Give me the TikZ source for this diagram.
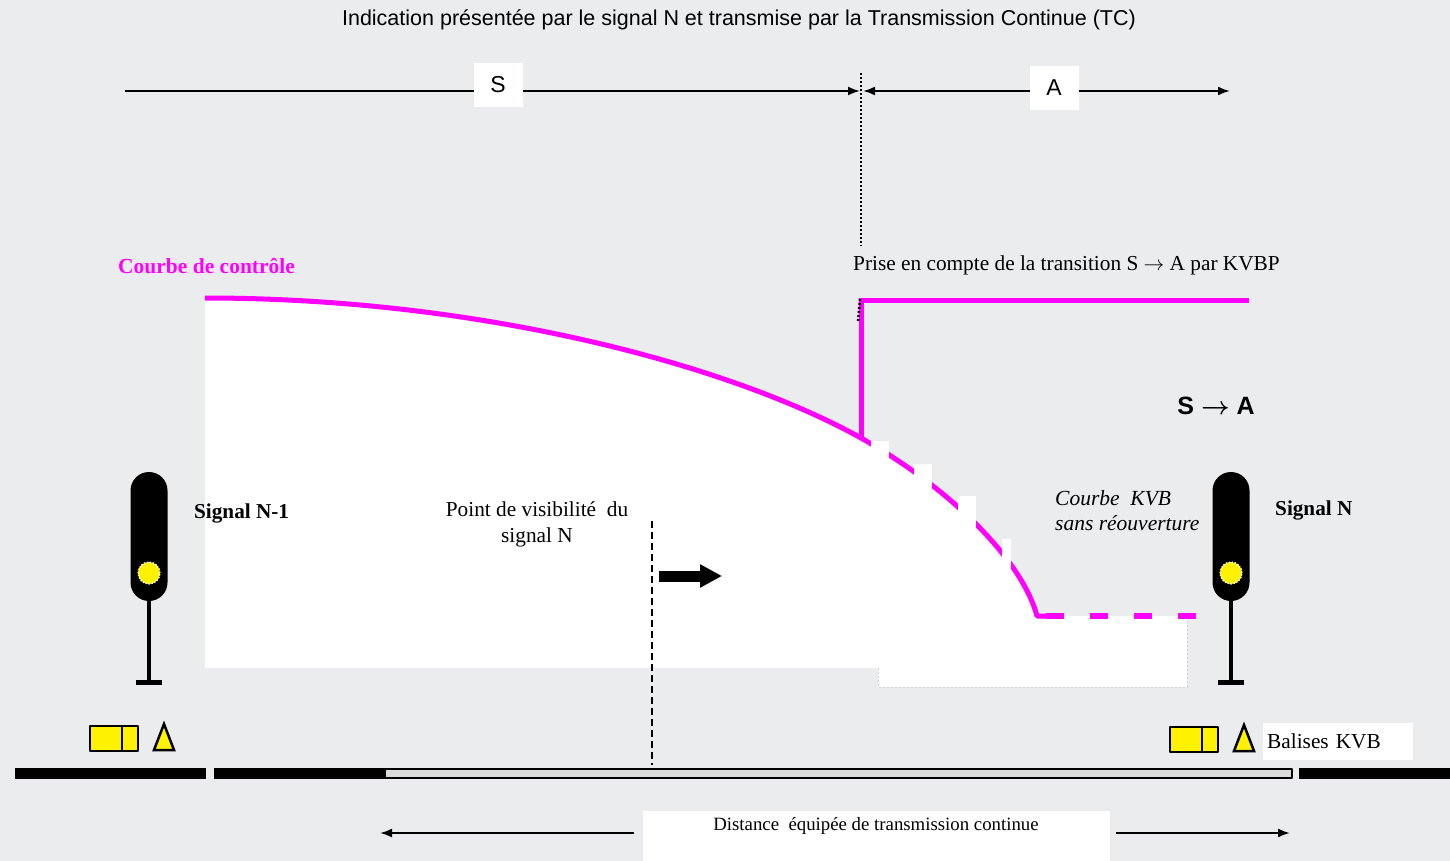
\documentclass[tikz,border=0pt]{standalone}
\usepackage{fontspec}
\setmainfont{Liberation Serif}
\setsansfont{Liberation Sans}
\usetikzlibrary{arrows.meta,positioning,calc}
\definecolor{fond}{RGB}{235,236,238}
\definecolor{rail}{RGB}{218,218,218}
\definecolor{rose}{RGB}{255,0,255}
\newcommand \mydrawsignal[2]
{
\coordinate (#1) at (#2,472);                                                   % haut du signal
\fill[black,rounded corners=18.5pt] ($(#1)+(-18.5,0)$) rectangle ($(#1)+(18.5,129)$); % cible
\filldraw[fill=yellow,draw=white,line width=1.2pt,dash pattern=on 1.5pt off 1.5pt] ($(#1)+(0,101)$) circle (11pt); % feu
\draw[line width=4pt] ($(#1)+(0,129)$) -- ($(#1)+(0,210)$);                       % mat
\draw[line width=5pt] ($(#1)+(-13,210)$) -- ($(#1)+(13,210)$);                    % pied
}
\newcommand \mydrawbalise[3]
{
\coordinate (#1) at (#2,#3);                                                    % coin haut gauche
\filldraw[fill=yellow,line width=2pt] (#1) rectangle ($(#1)+(48,25)$);
\draw[line width=2pt] ($(#1)+(32,0)$) -- ($(#1)+(32,25)$);
\filldraw[fill=yellow,line width=2.5pt,line join=miter] ($(#1)+(74,-2)$) -- ($(#1)+(84,24)$) -- ($(#1)+(64,24)$) -- cycle;
}

\begin{document}
\begin{tikzpicture}[x={(1pt,0)},y={(0,-1pt)},line join=round,
  titre/.style={font=\sffamily\fontsize{21.5}{26}\selectfont,inner sep=0},
  lettre/.style={fill=white,minimum width=49pt,minimum height=44pt,font=\sffamily\fontsize{23}{26}\selectfont},
  texte/.style={font=\fontsize{21.3}{25}\selectfont,inner sep=0},
  fleche/.style={line width=2pt,-{Latex[length=12pt,width=9pt]}},
  courbe/.style={rose,line width=5pt}]
\useasboundingbox (0,0) rectangle (1450,861);
\fill[fond] (0,0) rectangle (1450,861);

% indication S puis A
\node[titre] (titre) at (739,20) {Indication présentée par le signal N et transmise par la Transmission Continue (TC)};
\coordinate (sdeb) at (125,91);
\coordinate (transG) at (860,91);
\coordinate (transD) at (863,91);
\coordinate (afin) at (1230,91);
\draw[fleche] (sdeb) -- (transG);
\draw[fleche,{Latex[length=12pt,width=9pt]}-{Latex[length=12pt,width=9pt]}] (transD) -- (afin);
\node[lettre] (S) at (498,85) {S};
\node[lettre] (A) at (1054,88) {A};
\draw[line width=2.5pt,dash pattern=on 2pt off 2pt] (861,73) -- (861,246);

% courbe de controle
\coordinate (cdeb) at (205,298);
\coordinate (saut) at (861,438);
\coordinate (cfin) at (1037,616);
\fill[white] (cdeb) .. controls (480,298) and (730,365) .. (saut) .. controls (950,488) and (1022,560) .. (cfin)
  -- (1187,616) -- (1187,687) -- (878,687) -- (878,668) -- (205,668) -- cycle;
\draw[gray!35,dash pattern=on 2pt off 2pt] (878,668) -- (878,687) -- (1187,687) -- (1187,616);
\draw[courbe] (cdeb) .. controls (480,298) and (730,365) .. (saut) .. controls (950,488) and (1022,560) .. (cfin) -- (1046,616);
\foreach \xa/\xb/\yh in {871/889/441, 914/932/464, 958/976/496, 1002/1011/539}
  \fill[white] (\xa,\yh) rectangle (\xb,600);
\draw[rose,line width=6pt,dash pattern=on 18pt off 26pt] (1046,616) -- (1196,616);
\coordinate (coin) at (861,300);
\coordinate (afinc) at (1249,300);
\draw[courbe,line join=miter] (saut) -- (coin) -- (afinc);
\draw[line width=2.5pt,dash pattern=on 2pt off 2pt] (860,299) -- (858,322);

% point de visibilite
\draw[line width=2pt,dash pattern=on 7pt off 4pt] (652,521) -- (652,765);
\draw[line width=11pt,-{Triangle[length=22pt,width=22pt]}] (659,576) -- (722,576);

% signaux et balises
\mydrawsignal{sigA}{149}
\mydrawsignal{sigB}{1231}
\mydrawbalise{balA}{90}{726}
\mydrawbalise{balB}{1170}{727}

% voie
\fill (15,768) rectangle (206,779);
\fill (214,768) rectangle (386,779);
\filldraw[fill=rail,line width=2pt] (385,769) rectangle (1292,778);
\fill (1299,768) rectangle (1450,779);

% textes
\node[texte,rose,font=\bfseries\fontsize{21.5}{25}\selectfont,anchor=west] (ctrl) at (118,266) {Courbe de contrôle};
\node[texte,anchor=west] (prise) at (853,265) {Prise en compte de la transition S $\rightarrow$ A par KVBP};
\node[texte,font=\sffamily\bfseries\fontsize{25}{28}\selectfont] (SA) at (1216,406) {S {\boldmath$\rightarrow$} A};
\node[texte,anchor=west,font=\bfseries\fontsize{21.2}{25}\selectfont] (nomA) at (194,513) {Signal N-1};
\node[texte,anchor=west,font=\bfseries\fontsize{21.2}{25}\selectfont] (nomB) at (1275,510) {Signal N};
\node[texte,align=center,font=\fontsize{21.3}{26}\selectfont] (visi) at (537,524) {Point de visibilité \ du\\signal N};
\node[texte,align=left,anchor=west,font=\itshape\fontsize{21.5}{25}\selectfont] (kvb) at (1055,511) {Courbe \ KVB\\sans réouverture};
\node[texte,fill=white,anchor=west,text width=142pt,minimum height=37pt,inner sep=4pt] (bal) at (1263,741.5) {Balises KVB};

% distance equipee
\fill[white] (643,811) rectangle (1110,861);
\node[texte,font=\fontsize{18.8}{22}\selectfont] (dist) at (876,826) {Distance \ équipée de transmission continue};
\coordinate (dg1) at (634,833);
\coordinate (dg2) at (380,833);
\coordinate (dd1) at (1116,833);
\coordinate (dd2) at (1290,833);
\draw[fleche] (dg1) -- (dg2);
\draw[fleche] (dd1) -- (dd2);
\end{tikzpicture}
\end{document}
